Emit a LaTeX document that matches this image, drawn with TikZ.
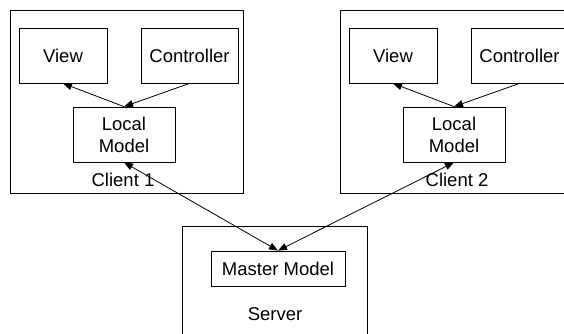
\documentclass[tikz,border=0pt]{standalone}
\usepackage{fontspec}
\setmainfont{Liberation Sans}
\usetikzlibrary{arrows.meta}

\begin{document}
\begin{tikzpicture}[x=1pt, y=-1pt,
    every node/.style={font=\fontsize{18.5}{22}\selectfont},
    box/.style={draw, rectangle, line width=0.8pt, inner sep=0pt},
    link/.style={line width=0.8pt, -{Triangle[length=9pt,width=7pt]}}]
    \useasboundingbox (0,0) rectangle (564,333);
    \clip (0,0) rectangle (564,333);

    % 客户端 1
    \node[box, minimum width=233pt, minimum height=183pt] (client1) at (126.5,101.5) {};
    \node[box, minimum width=88pt, minimum height=55pt] (view1) at (63,55.5) {View};
    \node[box, minimum width=97pt, minimum height=55pt] (ctrl1) at (189.5,55.5) {Controller};
    \node[box, minimum width=102pt, minimum height=55pt, align=center] (local1) at (124,134.5) {Local\\Model};
    \node (label1) at (123,180) {Client 1};

    % 客户端 2
    \node[box, minimum width=233pt, minimum height=183pt] (client2) at (456.5,101.5) {};
    \node[box, minimum width=88pt, minimum height=55pt] (view2) at (393,55.5) {View};
    \node[box, minimum width=97pt, minimum height=55pt] (ctrl2) at (519.5,55.5) {Controller};
    \node[box, minimum width=102pt, minimum height=55pt, align=center] (local2) at (454,134.5) {Local\\Model};
    \node (label2) at (457,180) {Client 2};

    % 服务器
    \node[box, minimum width=185pt, minimum height=130pt] (server) at (274.5,291) {};
    \node[box, minimum width=134pt, minimum height=35pt] (master) at (278,268.5) {Master Model};
    \node (label3) at (275,314) {Server};

    % 客户端内部
    \draw[link] (local1.north) -- (view1.south);
    \draw[link] (ctrl1.south) -- (local1.north);
    \draw[link] (local2.north) -- (view2.south);
    \draw[link] (ctrl2.south) -- (local2.north);

    % 同步
    \draw[link, {Triangle[length=9pt,width=7pt]}-{Triangle[length=9pt,width=7pt]}] (local1.south) -- (master.north);
    \draw[link, {Triangle[length=9pt,width=7pt]}-{Triangle[length=9pt,width=7pt]}] (local2.south) -- (master.north);
\end{tikzpicture}
\end{document}
